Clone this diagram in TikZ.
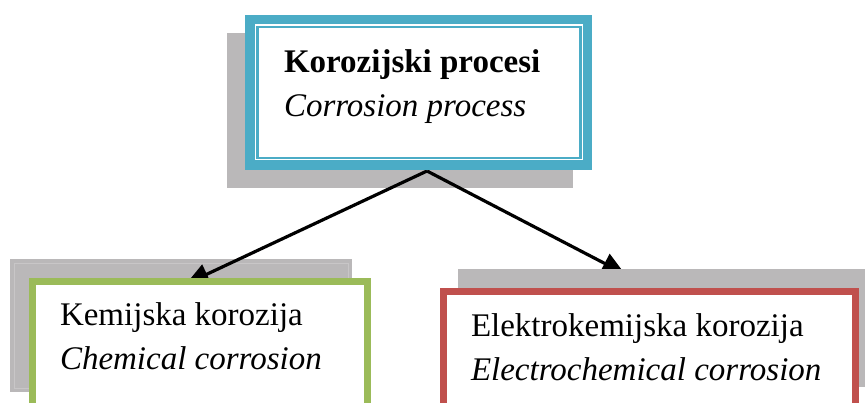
\documentclass[tikz,border=0pt]{standalone}
\usepackage{fontspec}
\setmainfont{Liberation Serif}
\usetikzlibrary{arrows.meta}
\definecolor{boxteal}{HTML}{4BACC6}
\definecolor{boxgreen}{HTML}{9BBB59}
\definecolor{boxred}{HTML}{C0504D}
\definecolor{shadowgray}{HTML}{BAB8B9}
\definecolor{shadowline}{HTML}{C8C6C7}
\definecolor{headgray}{HTML}{404040}
\tikzset{
  shadowbox/.style={fill=shadowgray, draw=none, inner sep=0pt, outer sep=0pt, anchor=north west},
  framebox/.style={draw=#1, fill=white, inner sep=0pt, outer sep=0pt, anchor=north west},
  label/.style={anchor=base west, inner sep=0pt, outer sep=0pt, font=\fontsize{33}{40}\selectfont},
  conn/.style={line width=3.2pt, -{Triangle[length=23pt,width=21pt]}},
}
\begin{document}
\begin{tikzpicture}[x=1pt,y=-1pt]
\useasboundingbox (0,0) rectangle (865,403);
\clip (0,0) rectangle (865,403);
% shadows
\node[shadowbox, minimum width=346pt, minimum height=155pt] (topshadow) at (227,33) {};
\node[shadowbox, minimum width=342pt, minimum height=133pt] (leftshadow) at (10,259) {};
\draw[shadowline, line width=0.8pt] (14,263) rectangle (348,388);
% connectors
\coordinate (apex) at (427,171);
\coordinate (ltip) at (186,284);
\coordinate (rtip) at (625,274);
\draw[conn, draw=black, fill=headgray] (apex) -- (ltip);
\draw[conn, draw=black, fill=black] (apex) -- (rtip);
\node[shadowbox, minimum width=420pt, minimum height=118pt] (rightshadow) at (458,269) {};
% bottom boxes
\node[framebox=boxgreen, line width=7pt, minimum width=335pt, minimum height=150pt] (leftbox) at (32.5,281.5) {};
\node[framebox=boxred, line width=7pt, minimum width=412pt, minimum height=140pt] (rightbox) at (443.5,291.5) {};
% top box
\node[framebox=boxteal, line width=9.5pt, minimum width=337.5pt, minimum height=145.5pt] (topbox) at (249.75,19.75) {};
\node[framebox=boxteal, line width=2.8pt, minimum width=323pt, minimum height=131pt] (topinner) at (257.5,27) {};
% texts
\node[label] (toptitle) at (284,73) {\bfseries Korozijski procesi};
\node[label] (topsub) at (284,117) {\itshape Corrosion process};
\node[label] (lefttitle) at (60,326) {Kemijska korozija};
\node[label] (leftsub) at (60,370) {\itshape Chemical corrosion};
\node[label] (righttitle) at (471,337) {Elektrokemijska korozija};
\node[label] (rightsub) at (471,381) {\itshape Electrochemical corrosion};
\end{tikzpicture}
\end{document}
